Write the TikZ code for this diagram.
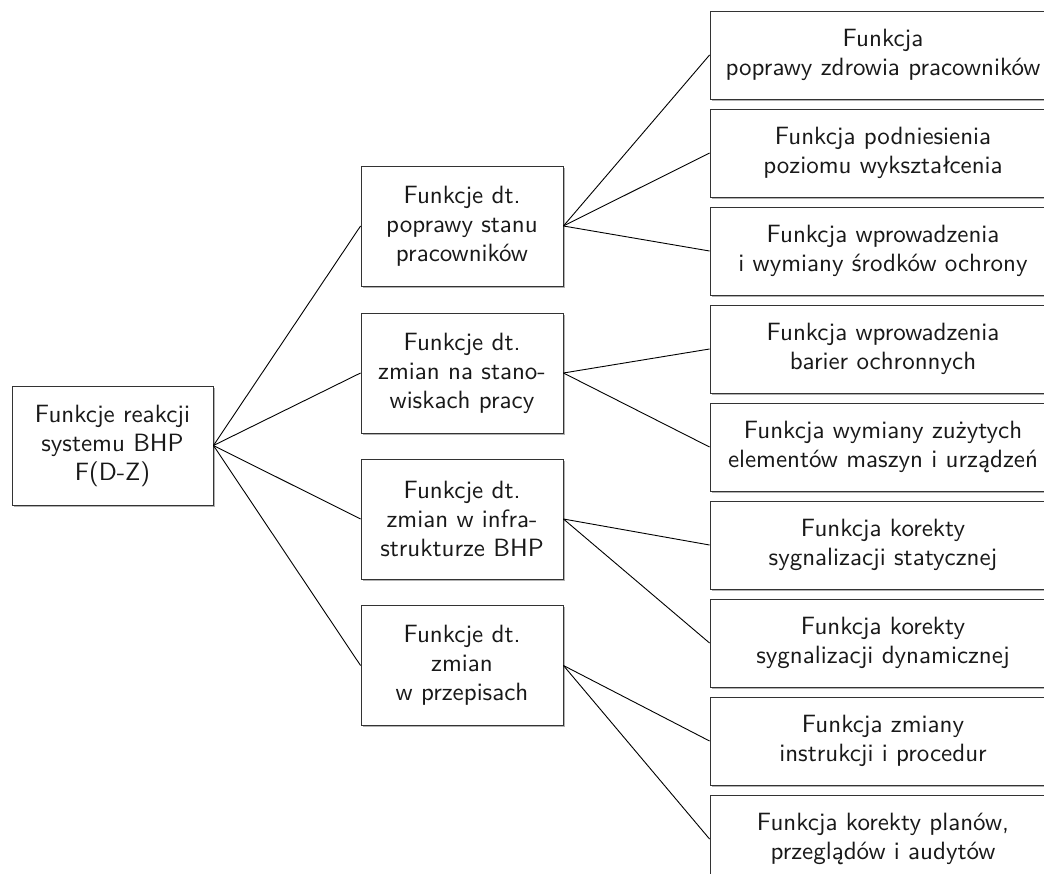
\documentclass[tikz,border=0pt]{standalone}
\usepackage{fontspec}
\setsansfont{lmsans10-regular.otf}
\usetikzlibrary{shadows}
\begin{document}
\begin{tikzpicture}[x=1pt,y=-1pt,
  box/.style={draw=black!80, line width=0.9pt, fill=white, align=center,
    font=\sffamily\fontsize{25}{29}\selectfont, text=black!90,
    inner sep=0pt,
    drop shadow={shadow xshift=1.6pt, shadow yshift=-1.6pt, fill=black, opacity=0.3}},
  rootbox/.style={box, minimum width=201pt, minimum height=119pt},
  midbox/.style={box, minimum width=202pt, minimum height=120pt},
  leafbox/.style={box, minimum width=346pt, minimum height=88pt},
  link/.style={draw=black, line width=0.9pt}]
\useasboundingbox (0,0) rectangle (1044,874);
\clip (0,0) rectangle (1044,874);

% root
\node[rootbox] (root) at (112.5,445.5) {Funkcje reakcji\\systemu BHP\\F(D-Z)};

% second level
\node[midbox] (m1) at (462,226) {Funkcje dt.\\poprawy stanu\\pracowników};
\node[midbox] (m2) at (462,373) {Funkcje dt.\\zmian na stano-\\wiskach pracy};
\node[midbox] (m3) at (462,519) {Funkcje dt.\\zmian w infra-\\strukturze BHP};
\node[midbox] (m4) at (462,665.5) {Funkcje dt.\\zmian\\w przepisach};

% third level
\node[leafbox] (l1) at (883,55)  {Funkcja\\poprawy zdrowia pracowników};
\node[leafbox] (l2) at (883,153) {Funkcja podniesienia\\poziomu wykształcenia};
\node[leafbox] (l3) at (883,251) {Funkcja wprowadzenia\\i wymiany środków ochrony};
\node[leafbox] (l4) at (883,349) {Funkcja wprowadzenia\\barier ochronnych};
\node[leafbox] (l5) at (883,447) {Funkcja wymiany zużytych\\elementów maszyn i urządzeń};
\node[leafbox] (l6) at (883,545) {Funkcja korekty\\sygnalizacji statycznej};
\node[leafbox] (l7) at (883,643) {Funkcja korekty\\sygnalizacji dynamicznej};
\node[leafbox] (l8) at (883,741) {Funkcja zmiany\\instrukcji i procedur};
\node[leafbox] (l9) at (883,839) {Funkcja korekty planów,\\przeglądów i audytów};

% connectors
\foreach \m in {m1,m2,m3,m4} \draw[link] (root.east) -- (\m.west);
\foreach \l in {l1,l2,l3} \draw[link] (m1.east) -- (\l.west);
\foreach \l in {l4,l5} \draw[link] (m2.east) -- (\l.west);
\foreach \l in {l6,l7} \draw[link] (m3.east) -- (\l.west);
\foreach \l in {l8,l9} \draw[link] (m4.east) -- (\l.west);
\end{tikzpicture}
\end{document}
